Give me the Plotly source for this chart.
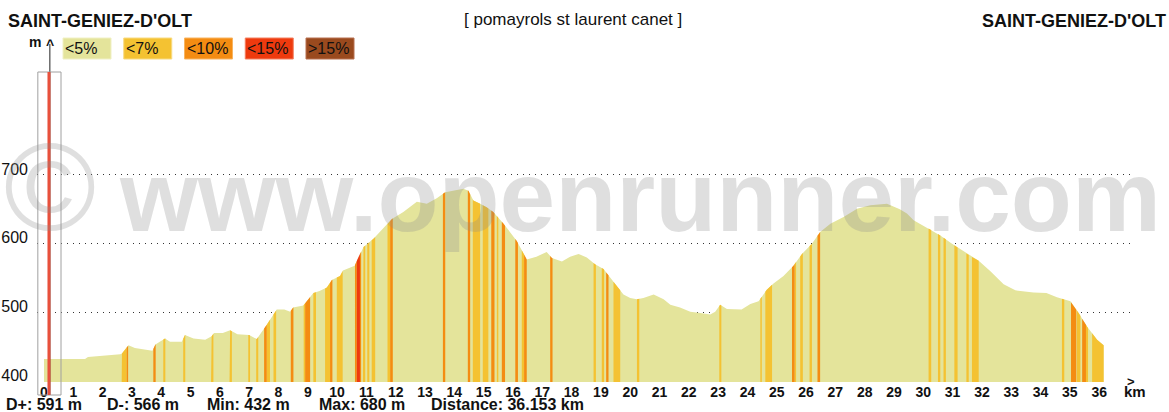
import numpy as np
import plotly.graph_objects as go

# ---------------- data ----------------
KM = [0.0, 0.3, 1.4, 1.5, 2.2, 2.6, 2.66, 2.88, 3.1, 3.4, 3.7, 3.8, 4.13, 4.3, 4.7, 4.81,
      5.1, 5.5, 5.72, 5.8, 6.1, 6.35, 6.6, 7.0, 7.26, 7.6, 7.94, 8.2, 8.4, 8.5, 8.85,
      9.19, 9.4, 9.65, 9.82, 10.1, 10.2, 10.6, 10.78, 10.9, 11.24, 11.58, 11.87, 12.26,
      12.72, 13.06, 13.4, 13.69, 13.97, 14.31, 14.48, 14.65, 14.88, 15.1, 15.33, 15.68,
      16.13, 16.47, 16.8, 17.15, 17.33, 17.67, 17.95, 18.24, 18.52, 18.8, 19.09, 19.37,
      19.55, 19.77, 20.0, 20.23, 20.45, 20.8, 21.14, 21.37, 21.7, 22.05, 22.39, 22.73,
      22.9, 23.07, 23.3, 23.8, 24.1, 24.38, 24.66, 24.89, 25.23, 25.57, 25.86, 26.2,
      26.48, 26.83, 27.28, 27.74, 28.19, 28.76, 29.2, 29.44, 29.67, 30.18, 30.58, 30.98,
      31.26, 31.6, 31.89, 32.29, 32.74, 33.14, 33.76, 34.2, 34.56, 35.02, 35.3, 35.59,
      35.93, 36.153]
ELEV = [432, 432, 432, 435, 437, 439, 440, 452, 448, 446, 444, 453, 462, 457, 457, 467,
        462, 460, 465, 470, 470, 474, 468, 467, 461, 482, 504, 504, 501, 507, 510,
        528, 531, 536, 547, 553, 561, 568, 585, 595, 607, 622, 636, 646,
        661, 658, 666, 675, 677, 680, 677, 663, 658, 653, 646, 629,
        604, 577, 581, 588, 579, 574, 581, 585, 580, 570, 563, 548,
        538, 526, 521, 519, 521, 526, 519, 511, 507, 501, 499, 497,
        501, 511, 505, 504, 512, 516, 533, 542, 553, 568, 585, 600,
        617, 629, 639, 651, 656, 658, 650, 644, 634, 622, 612, 600,
        592, 582, 575, 560, 541, 532, 529, 528, 522, 516, 499, 479,
        460, 452]

# gradient stripes: start km, end km, class index (1 = <7%, 2 = <10%, 3 = <15%)
STRIPE_START = [2.65, 2.82, 3.73, 4.07, 4.75, 5.70, 6.33, 6.97, 7.24, 7.51, 7.60, 7.83,
                8.42, 8.86, 8.91, 9.19, 9.59, 9.76, 9.99, 10.61, 10.67, 10.78, 10.88,
                11.03, 11.18, 11.72, 11.81, 13.61, 14.46, 14.63, 14.97, 15.26, 15.45,
                15.62, 16.08, 16.30, 16.38, 17.27, 18.75, 19.03, 19.18, 19.43, 20.23,
                23.04, 24.44, 24.61, 25.52, 25.61, 25.80, 26.12, 26.39, 30.18, 30.50,
                30.69, 31.06, 31.47, 31.66, 34.73, 35.04, 35.24, 35.42, 35.55, 35.76]
STRIPE_END = [2.82, 2.87, 3.81, 4.14, 4.82, 5.78, 6.41, 7.03, 7.31, 7.60, 7.71, 7.92,
              8.51, 8.91, 9.08, 9.28, 9.76, 9.84, 10.19, 10.67, 10.78, 10.82, 10.96,
              11.10, 11.30, 11.81, 11.90, 13.69, 14.54, 14.88, 15.16, 15.37, 15.50,
              15.73, 16.17, 16.38, 16.47, 17.35, 18.83, 19.11, 19.26, 19.66, 20.31,
              23.11, 24.49, 24.84, 25.61, 25.66, 25.89, 26.20, 26.48, 30.27, 30.58,
              30.77, 31.17, 31.55, 31.89, 34.81, 35.22, 35.36, 35.55, 35.62, 36.153]
STRIPE_CLASS = [1, 2, 2, 1, 1, 1, 1, 1, 1, 2, 1, 1,
                2, 1, 2, 1, 1, 2, 1, 2, 3, 2, 1,
                1, 1, 1, 2, 2, 2, 1, 1, 2, 1,
                2, 2, 1, 2, 2, 1, 1, 2, 1, 1,
                1, 1, 1, 2, 1, 1, 1, 2, 1, 1,
                1, 1, 1, 1, 1, 2, 1, 2, 1, 1]

CLASS_LABELS = ["<5%", "<7%", "<10%", "<15%", ">15%"]
CLASS_COLORS = ["#E4E49B", "#F4C232", "#F48C12", "#EE3A0E", "#9A4A1E"]
CLASS_BORDERS = ["#F0F0C4", "#F8DA80", "#F8B460", "#F48060", "#B87050"]

X_TICKS = list(range(0, 37))
Y_TICKS = [400, 500, 600, 700]
START_NAME = "SAINT-GENIEZ-D'OLT"
END_NAME = "SAINT-GENIEZ-D'OLT"
ROUTE_NAME = "[ pomayrols st laurent canet ]"
STAT_TEXTS = ["D+: 591 m", "D-: 566 m", "Min: 432 m", "Max: 680 m", "Distance: 36.153 km"]
WATERMARK_SYMBOL = "©"
WATERMARK_TEXT = "www.openrunner.com"
MARKER_KM = 0.17

# ---------------- layout geometry ----------------
FIG_W, FIG_H = 1169, 412
L, R, T, B = 37, 38, 45, 30
PW = FIG_W - L - R
PH = FIG_H - T - B
PX_PER_KM = 29.31
PX_PER_M = 0.6867
X_MIN = -(44 - L) / PX_PER_KM
X_MAX = X_MIN + PW / PX_PER_KM
Y_MIN = 400 - 1 / PX_PER_M
Y_MAX = Y_MIN + PH / PX_PER_M


def xp(px):
    return (px - L) / PW


def yp(py):
    return (FIG_H - B - py) / PH


FONT = "Liberation Sans, Arial, sans-serif"

km = np.array(KM, dtype=float)
el = np.array(ELEV, dtype=float)

fig = go.Figure()

# base profile
fig.add_trace(go.Scatter(x=KM, y=ELEV, mode="lines", line=dict(width=0, color=CLASS_COLORS[0]),
                         fill="tozeroy", fillcolor=CLASS_COLORS[0], hoverinfo="skip",
                         showlegend=False))

# gradient stripes
for cls in (1, 2, 3, 4):
    xs, ys = [], []
    for s, e, c in zip(STRIPE_START, STRIPE_END, STRIPE_CLASS):
        if c != cls:
            continue
        inner = km[(km > s) & (km < e)]
        pxs = [s] + list(inner) + [e]
        pys = list(np.interp(pxs, km, el))
        xs += [s] + pxs + [e, s, None]
        ys += [Y_MIN] + pys + [Y_MIN, Y_MIN, None]
    if xs:
        fig.add_trace(go.Scatter(x=xs, y=ys, mode="lines", line=dict(width=0, color=CLASS_COLORS[cls]),
                                 fill="toself", fillcolor=CLASS_COLORS[cls], hoverinfo="skip",
                                 showlegend=False, connectgaps=False))

shapes = []
# y axis line (black) at the marker
shapes.append(dict(type="line", xref="x", yref="paper", x0=MARKER_KM + 0.03, x1=MARKER_KM + 0.03,
                   y0=yp(395), y1=yp(44), line=dict(color="#222222", width=1)))
# position box
shapes.append(dict(type="rect", xref="x", yref="paper", x0=MARKER_KM - 0.38, x1=MARKER_KM + 0.41,
                   y0=yp(395), y1=yp(72), line=dict(color="#A0A0A0", width=1)))
# red marker line
shapes.append(dict(type="line", xref="x", yref="paper", x0=MARKER_KM, x1=MARKER_KM,
                   y0=yp(395), y1=yp(72), line=dict(color="#E8503C", width=3)))

annotations = []
# legend boxes
for i, (lab, col, bcol) in enumerate(zip(CLASS_LABELS, CLASS_COLORS, CLASS_BORDERS)):
    x0 = 63 + i * 60.75
    shapes.append(dict(type="rect", xref="paper", yref="paper", x0=xp(x0), x1=xp(x0 + 48),
                       y0=yp(59), y1=yp(38), fillcolor=col, line=dict(color=bcol, width=1)))
    annotations.append(dict(text=lab, xref="paper", yref="paper", x=xp(x0), y=yp(49),
                            xanchor="left", yanchor="middle", showarrow=False,
                            font=dict(family=FONT, size=16, color="#111111")))

# titles
annotations.append(dict(text=START_NAME, xref="paper", yref="paper", x=xp(6), y=yp(21),
                        xanchor="left", yanchor="middle", showarrow=False,
                        font=dict(family=FONT, size=18, color="#111111", weight="bold")))
annotations.append(dict(text=END_NAME, xref="paper", yref="paper", x=xp(1168), y=yp(21),
                        xanchor="right", yanchor="middle", showarrow=False,
                        font=dict(family=FONT, size=18, color="#111111", weight="bold")))
annotations.append(dict(text=ROUTE_NAME, xref="paper", yref="paper", x=xp(573), y=yp(19),
                        xanchor="center", yanchor="middle", showarrow=False,
                        font=dict(family=FONT, size=17, color="#111111")))
# axis units
annotations.append(dict(text="m", xref="paper", yref="paper", x=xp(35), y=yp(42),
                        xanchor="center", yanchor="middle", showarrow=False,
                        font=dict(family=FONT, size=14, color="#111111", weight="bold")))
annotations.append(dict(text="^", xref="paper", yref="paper", x=xp(50), y=yp(45),
                        xanchor="center", yanchor="middle", showarrow=False,
                        font=dict(family=FONT, size=14, color="#111111", weight="bold")))
annotations.append(dict(text="km", xref="paper", yref="paper", x=xp(1135), y=yp(391),
                        xanchor="center", yanchor="middle", showarrow=False,
                        font=dict(family=FONT, size=15, color="#111111", weight="bold")))
annotations.append(dict(text=">", xref="paper", yref="paper", x=xp(1131), y=yp(381),
                        xanchor="center", yanchor="middle", showarrow=False,
                        font=dict(family=FONT, size=13, color="#111111", weight="bold")))
# stats
for txt, px in zip(STAT_TEXTS, [4, 105, 205, 317, 429]):
    annotations.append(dict(text=txt, xref="paper", yref="paper", x=xp(px), y=yp(404),
                            xanchor="left", yanchor="middle", showarrow=False,
                            font=dict(family=FONT, size=16, color="#111111", weight="bold")))
# watermark
WM_COLOR = "rgba(140,140,140,0.28)"
annotations.append(dict(text=WATERMARK_SYMBOL, xref="paper", yref="paper", x=xp(50), y=yp(186),
                        xanchor="center", yanchor="middle", showarrow=False,
                        font=dict(family=FONT, size=125, color=WM_COLOR)))
annotations.append(dict(text=WATERMARK_TEXT, xref="paper", yref="paper", x=xp(1163), y=yp(196),
                        xanchor="right", yanchor="middle", showarrow=False,
                        font=dict(family=FONT, size=100, color=WM_COLOR, weight="bold")))

fig.update_layout(
    width=FIG_W, height=FIG_H,
    margin=dict(l=L, r=R, t=T, b=B, pad=0),
    paper_bgcolor="white", plot_bgcolor="white",
    showlegend=False,
    shapes=shapes, annotations=annotations,
    font=dict(family=FONT, color="#111111"),
    xaxis=dict(range=[X_MIN, X_MAX], tickvals=X_TICKS, ticktext=[str(t) for t in X_TICKS],
               showgrid=False, zeroline=False, showline=False, ticks="", automargin=False,
               tickfont=dict(family=FONT, size=14, color="#111111", weight="bold")),
    yaxis=dict(range=[Y_MIN, Y_MAX], tickvals=Y_TICKS, showgrid=True, griddash="1px,5px",
               gridcolor="#333333", gridwidth=1, zeroline=False, showline=False, ticks="",
               automargin=False, ticklabelshift=-6, ticklabelstandoff=8,
               tickfont=dict(family=FONT, size=16, color="#111111")),
)

fig.write_html("out.html", config={"displayModeBar": False},
               post_script="document.body.style.margin='0px';document.body.style.padding='0px';")
